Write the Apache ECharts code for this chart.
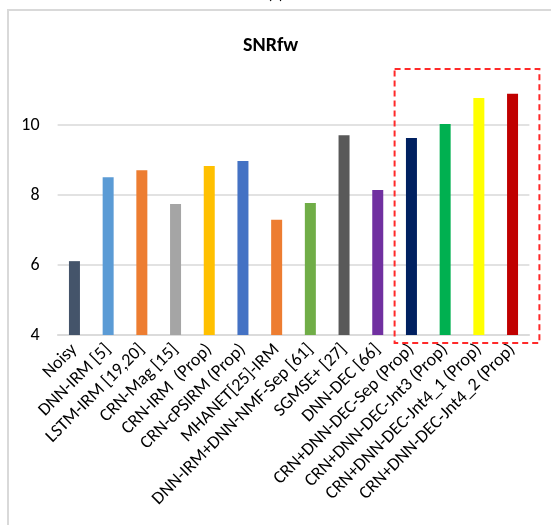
<!DOCTYPE html>
<html>
<head>
<meta charset="utf-8">
<script src="https://cdn.jsdelivr.net/npm/echarts@6/dist/echarts.min.js"></script>
<style>
  html, body { margin: 0; padding: 0; background: #fff; }
  #chart { width: 551px; height: 525px; }
</style>
</head>
<body>
<div id="chart"></div>
<script>
// Method names shown along the x axis
const methods = [
  'Noisy', 'DNN-IRM [5]', 'LSTM-IRM [19,20]', 'CRN-Mag [15]', 'CRN-IRM  (Prop)',
  'CRN-cPSIRM (Prop)', 'MHANET[25]-IRM', 'DNN-IRM+DNN-NMF-Sep [61]', 'SGMSE+ [27]',
  'DNN-DEC [66]', 'CRN+DNN-DEC-Sep (Prop)', 'CRN+DNN-DEC-Jnt3 (Prop)',
  'CRN+DNN-DEC-Jnt4_1 (Prop)', 'CRN+DNN-DEC-Jnt4_2 (Prop)'
];
// SNRfw score per method
const snrfw = [6.11, 8.51, 8.71, 7.74, 8.83, 8.97, 7.29, 7.77, 9.71, 8.14, 9.63, 10.03, 10.77, 10.89];
// Bar fill per method
const barColors = [
  '#44546a', '#5b9bd5', '#ed7d31', '#a5a5a5', '#ffc000', '#4472c4', '#ed7d31',
  '#70ad47', '#595959', '#7030a0', '#002060', '#00b050', '#ffff00', '#c00000'
];
// Value axis ticks
const yTicks = [4, 6, 8, 10];
// First and last index of the proposed combined systems
const highlightRange = [10, 13];

const font = "Carlito, 'Open Sans', sans-serif";
const chart = echarts.init(document.getElementById('chart'));

const option = {
  backgroundColor: '#ffffff',
  animation: false,
  title: {
    text: 'SNRfw',
    left: 238,
    top: 31,
    textStyle: { fontFamily: font, fontSize: 20, fontWeight: 'bold', color: '#000' }
  },
  grid: { left: 57.6, right: 21.6, top: 55, bottom: 190 },
  xAxis: {
    type: 'category',
    data: methods,
    axisTick: { show: false },
    axisLine: { lineStyle: { color: '#d9d9d9', width: 1.5 } },
    axisLabel: {
      interval: 0,
      rotate: 45,
      margin: 12,
      fontFamily: font,
      fontSize: 18,
      color: '#000'
    }
  },
  yAxis: {
    type: 'value',
    min: 4,
    max: 12,
    interval: 2,
    axisLine: { show: false },
    axisTick: { show: false },
    axisLabel: {
      margin: 18,
      fontFamily: font,
      fontSize: 18,
      color: '#000',
      formatter: v => (yTicks.includes(v) ? String(v) : '')
    },
    splitLine: {
      lineStyle: { color: ['#d9d9d9', '#d9d9d9', '#d9d9d9', '#d9d9d9', 'rgba(0,0,0,0)'], width: 1.5 }
    }
  },
  series: [{
    type: 'bar',
    barWidth: 11,
    data: snrfw.map((v, i) => ({ value: v, itemStyle: { color: barColors[i] } }))
  }]
};
chart.setOption(option);

// Frame and dashed box around the proposed combined systems
function drawOverlay() {
  const left = chart.convertToPixel({ xAxisIndex: 0 }, highlightRange[0]);
  const right = chart.convertToPixel({ xAxisIndex: 0 }, highlightRange[1]);
  const band = (right - left) / (highlightRange[1] - highlightRange[0]);
  const yTop = chart.convertToPixel({ yAxisIndex: 0 }, 11.6);
  const yBottom = chart.convertToPixel({ yAxisIndex: 0 }, 4);
  const x0 = left - band / 2;
  const x1 = right + band / 2 + 10;
  chart.setOption({
    graphic: [
      {
        type: 'rect',
        shape: { x: 8, y: 10, width: 600, height: 600 },
        style: { fill: 'none', stroke: '#d9d9d9', lineWidth: 2 },
        silent: true, z: -1
      },
      {
        type: 'text',
        left: 'center',
        top: -13,
        style: { text: '(c)', fontFamily: font, fontSize: 16, fill: '#000' },
        silent: true
      },
      {
        type: 'rect',
        shape: { x: x0, y: yTop, width: x1 - x0, height: yBottom - yTop + 8 },
        style: { fill: 'none', stroke: '#ff2a2a', lineWidth: 2, lineDash: [6, 4] },
        silent: true, z: 10
      }
    ]
  });
}
drawOverlay();
</script>
</body>
</html>
